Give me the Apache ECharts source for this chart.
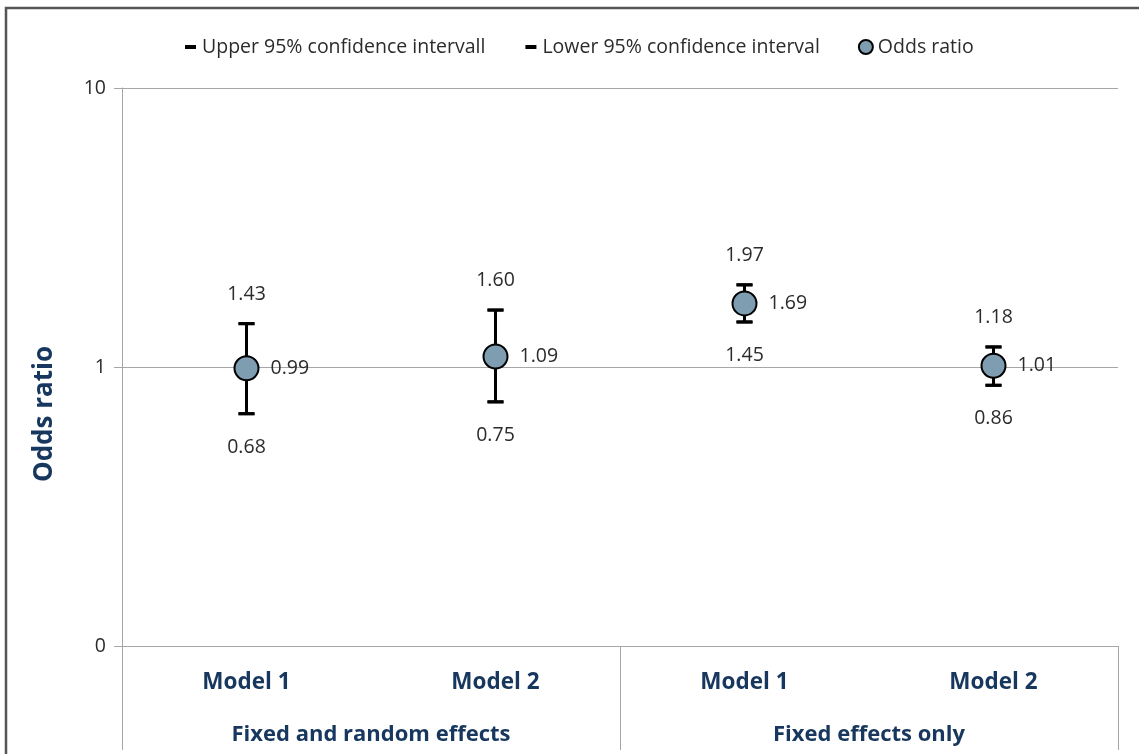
<!DOCTYPE html>
<html>
<head>
<meta charset="utf-8">
<title>Odds ratio</title>
<script src="https://cdn.jsdelivr.net/npm/echarts@6/dist/echarts.min.js"></script>
<style>
  html, body { margin: 0; padding: 0; background: #fff; }
  #chart { width: 1139px; height: 754px; }
</style>
</head>
<body>
<div id="chart"></div>
<script>
const models = ['Model 1', 'Model 2', 'Model 1', 'Model 2']
const groups = ['Fixed and random effects', 'Fixed effects only']
const oddsRatio = [0.99, 1.09, 1.69, 1.01]
const upperCI = [1.43, 1.60, 1.97, 1.18]
const lowerCI = [0.68, 0.75, 1.45, 0.86]

const navy = '#17375e'
const gridGray = '#a6a6a6'
const textGray = '#2b2b2b'
const labelFont = 'Open Sans'

const chart = echarts.init(document.getElementById('chart'))

// whisker: vertical line plus caps, from lower to upper
function renderWhisker(params, api) {
  const lo = api.coord([api.value(0), api.value(1)])
  const hi = api.coord([api.value(0), api.value(2)])
  const half = 8
  const style = { stroke: '#000', lineWidth: 3 }
  return {
    type: 'group',
    children: [
      { type: 'line', shape: { x1: lo[0], y1: lo[1], x2: hi[0], y2: hi[1] }, style },
      { type: 'line', shape: { x1: hi[0] - half, y1: hi[1], x2: hi[0] + half, y2: hi[1] }, style },
      { type: 'line', shape: { x1: lo[0] - half, y1: lo[1], x2: lo[0] + half, y2: lo[1] }, style },
    ],
  }
}

// dash icon, padded to a 14x14 box so it sits like Excel's marker
const dash = 'path://M0,0M2,5L13,5L13,9L2,9ZM14,14'

const valueLabel = (p) => p.value[1].toFixed(2)

chart.setOption({
  animation: false,
  textStyle: { fontFamily: labelFont },
  graphic: [
    {
      type: 'rect',
      shape: { x: 6, y: 8, width: 1300, height: 900 },
      style: { fill: 'none', stroke: '#555', lineWidth: 2.5 },
      silent: true,
    },
    {
      type: 'text',
      x: 45,
      y: 414,
      rotation: Math.PI / 2,
      style: {
        text: 'Odds ratio',
        fill: navy,
        font: 'bold 26px "Open Sans"',
        textAlign: 'center',
        textVerticalAlign: 'middle',
      },
    },
  ],
  legend: {
    top: 32,
    left: 178,
    itemWidth: 14,
    itemHeight: 14,
    itemGap: 38,
    textStyle: { fontFamily: labelFont, fontSize: 19.5, color: textGray },
    data: [
      { name: 'Upper 95% confidence intervall', icon: dash },
      { name: 'Lower 95% confidence interval', icon: dash },
      { name: 'Odds ratio', icon: 'circle' },
    ],
  },
  grid: { left: 122, right: 21, top: 88, bottom: 108 },
  xAxis: [
    {
      type: 'category',
      data: models,
      axisLine: { lineStyle: { color: gridGray, width: 1 } },
      axisTick: { show: false },
      axisLabel: { margin: 25, color: navy, fontWeight: 'bold', fontSize: 22.5, fontFamily: labelFont },
    },
    {
      type: 'category',
      data: groups,
      position: 'bottom',
      axisLine: { show: false },
      axisTick: { show: true, length: 104, lineStyle: { color: gridGray } },
      axisLabel: { margin: 78, color: navy, fontWeight: 'bold', fontSize: 22, fontFamily: labelFont },
      splitLine: { show: false },
    },
  ],
  yAxis: {
    type: 'log',
    logBase: 10,
    min: 0.1,
    max: 10,
    axisLine: { show: true, lineStyle: { color: gridGray } },
    axisTick: { show: true, length: 8, lineStyle: { color: gridGray } },
    minorTick: { show: false },
    splitLine: { lineStyle: { color: gridGray } },
    axisLabel: {
      margin: 16,
      fontSize: 19.5,
      color: textGray,
      formatter: (v) => String(Math.round(v)),
    },
  },
  series: [
    {
      name: 'whiskers',
      type: 'custom',
      renderItem: renderWhisker,
      data: lowerCI.map((v, i) => [i, v, upperCI[i]]),
      z: 2,
      silent: true,
    },
    {
      name: 'Upper 95% confidence intervall',
      type: 'scatter',
      data: upperCI.map((v, i) => [i, v]),
      symbol: 'rect',
      symbolSize: [16, 3],
      itemStyle: { color: '#000', opacity: 1 },
      label: { show: true, position: 'top', distance: 18, fontSize: 19.5, color: textGray, formatter: valueLabel },
      z: 3,
    },
    {
      name: 'Lower 95% confidence interval',
      type: 'scatter',
      data: lowerCI.map((v, i) => [i, v]),
      symbol: 'rect',
      symbolSize: [16, 3],
      itemStyle: { color: '#000', opacity: 1 },
      label: { show: true, position: 'bottom', distance: 22, fontSize: 19.5, color: textGray, formatter: valueLabel },
      z: 3,
    },
    {
      name: 'Odds ratio',
      type: 'scatter',
      data: oddsRatio.map((v, i) => [i, v]),
      symbol: 'circle',
      symbolSize: 24,
      itemStyle: { color: '#7f9db0', borderColor: '#000', borderWidth: 2, opacity: 1 },
      label: { show: true, position: 'right', distance: 11, fontSize: 19.5, color: textGray, formatter: valueLabel },
      z: 4,
    },
  ],
})
</script>
</body>
</html>
